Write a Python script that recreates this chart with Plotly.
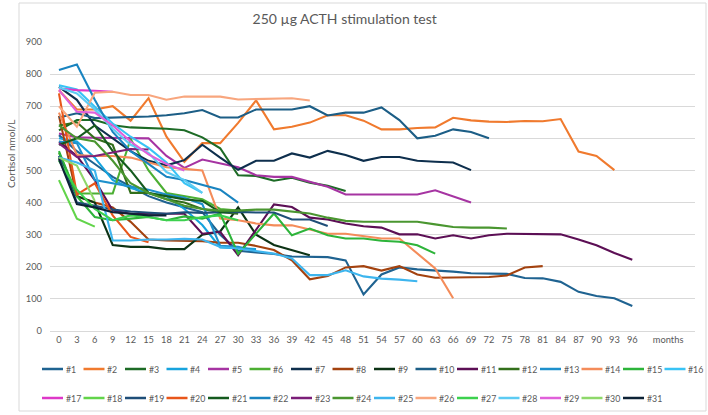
import plotly.graph_objects as go

months = list(range(0, 97, 3))
tick_vals = months + [102]
tick_text = [str(m) for m in months] + ["months"]

names = [f"#{i}" for i in range(1, 32)]
colors = ["#1F6391", "#F07A2E", "#1D6B26", "#17A3DD", "#A634A2", "#4CAF33", "#0E2F4D", "#A3420F",
          "#0C3315", "#1C5E86", "#5C0F55", "#336F1B", "#1E90CC", "#F48C5A", "#2DB43A", "#38C3F5",
          "#DE38C8", "#62D44A", "#1E4E78", "#E8561A", "#145A1E", "#1984C0", "#7B1E78", "#4A9630",
          "#3DB5EE", "#F8A67E", "#3CD14E", "#5CCBF3", "#E060DA", "#8ED86A", "#0D2236"]

s1 = [610, 560, 520, 480, 450, 420, 400, 385, 370, 300, 250, 245, 240, 232, 230, 230, 220, 114, 176, 198,
      192, 189, 185, 180, 178, 178, 165, 164, 153, 122, 109, 102, 78]
s2 = [750, 690, 690, 700, 655, 725, 605, 527, 585, 585, 648, 718, 628, 636, 649, 672, 672, 655, 628, 628,
      632, 634, 664, 656, 652, 651, 654, 653, 660, 559, 545, 501]
s3 = [625, 657, 657, 641, 634, 633, 630, 625, 603, 569, 485, 483, 468, 477, 462, 452, 436]
s4 = [600, 590, 540, 470, 445, 430, 420, 380, 330, 260, 258, 255]
s5 = [615, 603, 602, 602, 602, 600, 545, 508, 534, 522, 510, 485, 480, 480, 465, 449, 425, 425, 425, 425,
      425, 438, 418, 400]
s6 = [555, 428, 428, 428, 598, 500, 430, 420, 410, 380, 375]
s7 = [760, 720, 640, 600, 560, 530, 516, 532, 580, 540, 502, 530, 530, 553, 540, 561, 548, 530, 542, 542,
      530, 527, 525, 501]
s8 = [670, 420, 400, 385, 340, 285, 282, 280, 280, 275, 275, 265, 252, 220, 161, 171, 198, 202, 188, 202,
      176, 166, 166, 167, 168, 173, 198, 202]
s9 = [540, 420, 400, 268, 262, 262, 255, 255, 300, 310, 385, 300, 268, 252, 236]
s10 = [665, 678, 663, 664, 667, 668, 672, 678, 688, 665, 665, 690, 690, 690, 700, 671, 680, 680, 696, 657,
       600, 608, 628, 620, 600]
s11 = [590, 545, 470, 375, 365, 365, 365, 365, 303, 309, 236, 315, 394, 386, 353, 347, 335, 326, 322, 301,
       301, 288, 298, 288, 298, 303, 303, 303, 301, 285, 267, 243, 222]
s12 = [640, 650, 600, 580, 430, 430, 410, 400, 380, 370, 365]
s13 = [590, 585, 470, 460, 450, 440, 425, 415, 395, 265, 262, 250]
s14 = [680, 548, 545, 545, 540, 525, 510, 505, 500, 350, 345, 335, 329, 329, 317, 303, 303, 295, 288, 288,
       242, 195, 102]
s15 = [560, 420, 355, 345, 350, 355, 345, 357, 350, 366, 240, 304, 366, 298, 319, 298, 288, 288, 281, 278,
       267, 241]
s16 = [765, 752, 698, 646, 605, 570, 525, 460, 430]
s17 = [755, 750, 748, 745]
s18 = [470, 350, 325]
s19 = [545, 400, 390, 378, 372, 368, 365, 370, 368, 370, 371, 369, 369, 347, 347, 327]
s20 = [740, 425, 460, 360, 293, 276]
s21 = [580, 600, 640, 560, 500, 430, 420, 410, 405, 370, 375]
s22 = [813, 830, 720, 620, 560, 520, 480, 470, 455, 440, 400]
s23 = [584, 542, 545, 555, 567, 565]
s24 = [640, 600, 590, 530, 460, 430, 410, 390, 380, 375, 375, 378, 378, 371, 366, 353, 343, 340, 340, 340,
       340, 332, 324, 322, 322, 319]
s25 = [540, 525, 500, 282, 282, 285, 285, 287, 285, 262, 257, 248, 241, 226, 174, 174, 189, 170, 163, 160, 155]
s26 = [700, 636, 742, 745, 735, 735, 720, 730, 730, 730, 721, 722, 725, 725, 718]
s27 = [530, 440, 380, 345, 360, 355, 345, 345, 355, 360, 345]
s28 = [758, 740, 690, 630, 580, 555, 495, 470, 430]
s29 = [750, 683, 680, 640, 590, 550, 520, 500]
s30 = [540, 515, 405]
s31 = [535, 395, 385, 370, 365, 360, 360]

series = [s1, s2, s3, s4, s5, s6, s7, s8, s9, s10, s11, s12, s13, s14, s15, s16,
          s17, s18, s19, s20, s21, s22, s23, s24, s25, s26, s27, s28, s29, s30, s31]

W, H = 708, 415
ML, MR, MT, MB = 50, 13, 42, 84
PW, PH = W - ML - MR, H - MT - MB


def px(x):
    return (x - ML) / PW


def py(y):
    return (H - MB - y) / PH


fig = go.Figure()
for name, col, vals in zip(names, colors, series):
    fig.add_trace(go.Scatter(x=months[:len(vals)], y=vals, mode="lines", name=name,
                             line=dict(color=col, width=2.1), showlegend=False))

font_c = "#595959"
shapes = []
annotations = []
# chart border
shapes.append(dict(type="rect", xref="paper", yref="paper", x0=px(19), x1=px(706), y0=py(411), y1=py(3),
                   line=dict(color="#D9D9D9", width=1), fillcolor="rgba(0,0,0,0)", layer="below"))
# manual legend
for i, (name, col) in enumerate(zip(names, colors)):
    row = 0 if i < 16 else 1
    j = i if i < 16 else i - 16
    x0 = 42 + 41.5 * j
    yy = 369 if row == 0 else 398
    shapes.append(dict(type="line", xref="paper", yref="paper", x0=px(x0), x1=px(x0 + 21),
                       y0=py(yy), y1=py(yy), line=dict(color=col, width=2.5)))
    annotations.append(dict(xref="paper", yref="paper", x=px(x0 + 21.5), y=py(yy), text=name,
                            showarrow=False, xanchor="left", yanchor="middle",
                            font=dict(size=8.8, color=font_c)))
annotations.append(dict(xref="paper", yref="paper", x=px(11), y=py(154), text="Cortisol nmol/L",
                        textangle=-90, showarrow=False, xanchor="center", yanchor="middle",
                        font=dict(size=10, color="#595959")))

fig.update_layout(
    width=W, height=H,
    margin=dict(l=ML, r=MR, t=MT, b=MB),
    paper_bgcolor="white", plot_bgcolor="white",
    font=dict(family="Lato, Open Sans, sans-serif", color=font_c),
    title=dict(text="250 µg ACTH stimulation test", x=px(364), xanchor="center", y=1 - 19 / H,
               yanchor="middle", font=dict(size=14, color=font_c)),
    shapes=shapes, annotations=annotations,
    xaxis=dict(range=[-1.5, 106.5], tickmode="array", tickvals=tick_vals, ticktext=tick_text,
               showgrid=False, zeroline=False, showline=True, linecolor="#D9D9D9", linewidth=1,
               ticks="", tickfont=dict(size=9.3, color=font_c), fixedrange=True),
    yaxis=dict(range=[0, 900], tickmode="array", tickvals=list(range(0, 901, 100)),
               showgrid=True, gridcolor="#D9D9D9", gridwidth=1, zeroline=False, showline=False,
               ticks="", ticklabelstandoff=7, tickfont=dict(size=9.3, color=font_c), fixedrange=True),
)

fig.write_html("out.html")
